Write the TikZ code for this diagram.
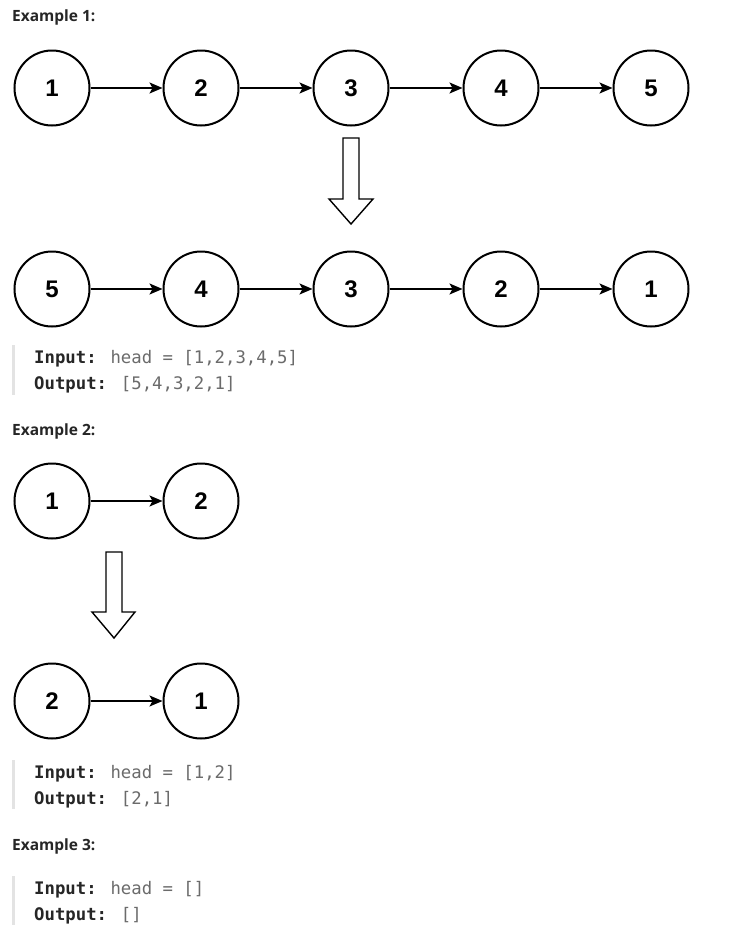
\documentclass[tikz,border=0pt]{standalone}
\usepackage{fontspec}
\setmainfont{Liberation Sans}
\newfontfamily\headfont{Open Sans}
\newfontfamily\codefont{DejaVu Sans Mono}
\newfontfamily\numfont{Liberation Sans}
\usetikzlibrary{arrows.meta}
\definecolor{headcol}{HTML}{262626}
\definecolor{valcol}{HTML}{6B6B6B}
\definecolor{barcol}{HTML}{E3E3E3}
\begin{document}
\begin{tikzpicture}[x=1pt,y=-1pt,
  lnode/.style={circle,draw=black,line width=2pt,minimum size=75pt,inner sep=0pt,
    font=\numfont\bfseries\fontsize{24}{27}\selectfont},
  link/.style={line width=1.6pt,-{Stealth[length=13pt,width=11pt,inset=3pt]},shorten >=0pt},
  heading/.style={anchor=base west,inner sep=0pt,text=headcol,font=\headfont\bfseries\fontsize{15.5}{18}\selectfont},
  code/.style={anchor=base west,inner sep=0pt,font=\codefont\fontsize{17.3}{20}\selectfont},
  codebar/.style={fill=barcol,draw=none},
  bigarrow/.style={draw=black,line width=1.4pt,fill=white,line join=miter}
]
\useasboundingbox (0,0) rectangle (742,938);
\fill[white] (0,0) rectangle (742,938);

% Example 1
\node[heading] (h1) at (12,21) {Example 1:};
\foreach \n/\x in {1/52,2/201,3/351,4/501,5/651}{
  \node[lnode] (a\n) at (\x,88) {\n};
}
\foreach \i/\j in {1/2,2/3,3/4,4/5}{ \draw[link] (a\i) -- (a\j); }

\draw[bigarrow] (343,138) -- (359,138) -- (359,199) -- (373,199) -- (351,224) -- (329,199) -- (343,199) -- cycle;

\foreach \n/\v/\x in {1/5/52,2/4/201,3/3/351,4/2/501,5/1/651}{
  \node[lnode] (b\n) at (\x,289) {\v};
}
\foreach \i/\j in {1/2,2/3,3/4,4/5}{ \draw[link] (b\i) -- (b\j); }

\fill[codebar] (12,345) rectangle (15,395);
\node[code] (in1) at (34,363) {\textbf{\color{headcol}Input:} \color{valcol}head = [1,2,3,4,5]};
\node[code] (out1) at (34,389) {\textbf{\color{headcol}Output:} \color{valcol}[5,4,3,2,1]};

% Example 2
\node[heading] (h2) at (12,435) {Example 2:};
\node[lnode] (c1) at (52,501) {1};
\node[lnode] (c2) at (201,501) {2};
\draw[link] (c1) -- (c2);

\draw[bigarrow] (106,552) -- (122,552) -- (122,612) -- (135,612) -- (114,638) -- (92,612) -- (106,612) -- cycle;

\node[lnode] (d1) at (52,701) {2};
\node[lnode] (d2) at (201,701) {1};
\draw[link] (d1) -- (d2);

\fill[codebar] (12,760) rectangle (15,809);
\node[code] (in2) at (34,778) {\textbf{\color{headcol}Input:} \color{valcol}head = [1,2]};
\node[code] (out2) at (34,804) {\textbf{\color{headcol}Output:} \color{valcol}[2,1]};

% Example 3
\node[heading] (h3) at (12,850) {Example 3:};
\fill[codebar] (12,876) rectangle (15,925);
\node[code] (in3) at (34,894) {\textbf{\color{headcol}Input:} \color{valcol}head = []};
\node[code] (out3) at (34,920) {\textbf{\color{headcol}Output:} \color{valcol}[]};
\end{tikzpicture}
\end{document}
